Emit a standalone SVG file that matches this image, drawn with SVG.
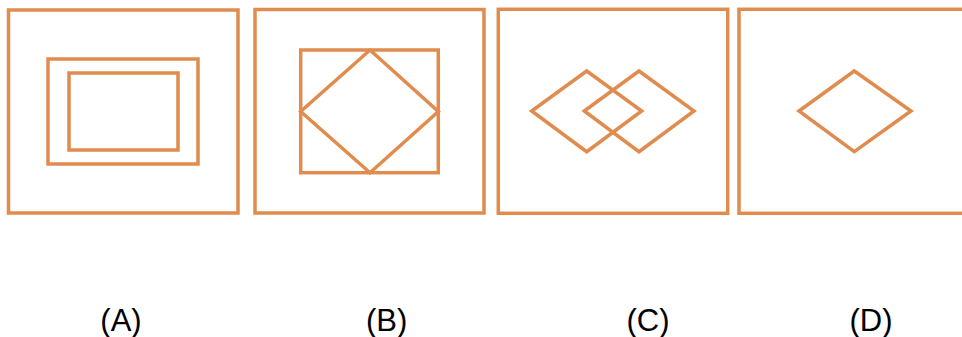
<svg xmlns="http://www.w3.org/2000/svg" width="962" height="337" viewBox="0 0 962 337">
<style>
.s{fill:none;stroke:#E08C4E;stroke-width:3.5;stroke-linejoin:miter}
.t{font-family:"Liberation Sans",Arial,sans-serif;font-size:31px;fill:#000;text-anchor:middle}
</style>
<rect width="962" height="337" fill="#fff"/>
<g id="A">
<rect class="s" x="8.5" y="10" width="229.5" height="203"/>
<rect class="s" x="48" y="59" width="150" height="105"/>
<rect class="s" x="69" y="73" width="109" height="77"/>
</g>
<g id="B">
<rect class="s" x="255" y="9.5" width="229" height="203.5"/>
<rect class="s" x="300.7" y="50" width="137.6" height="122.7"/>
<polygon class="s" points="370,50 438.3,111.5 370,172.7 300.7,111.5"/>
</g>
<g id="C">
<rect class="s" x="498.3" y="9.3" width="229.4" height="204"/>
<polygon class="s" points="531.7,111 586.7,71 641.7,111 586.7,151.7"/>
<polygon class="s" points="584.3,111 639,71 694,111 639,151.7"/>
</g>
<g id="D">
<rect class="s" x="739" y="9.3" width="226" height="204"/>
<polygon class="s" points="799,111 854.3,71 911,111 854.3,151.7"/>
</g>
<g id="labels">
<text class="t" x="121" y="331">(A)</text>
<text class="t" x="386.7" y="331">(B)</text>
<text class="t" x="648" y="331">(C)</text>
<text class="t" x="871" y="331">(D)</text>
</g>
</svg>
